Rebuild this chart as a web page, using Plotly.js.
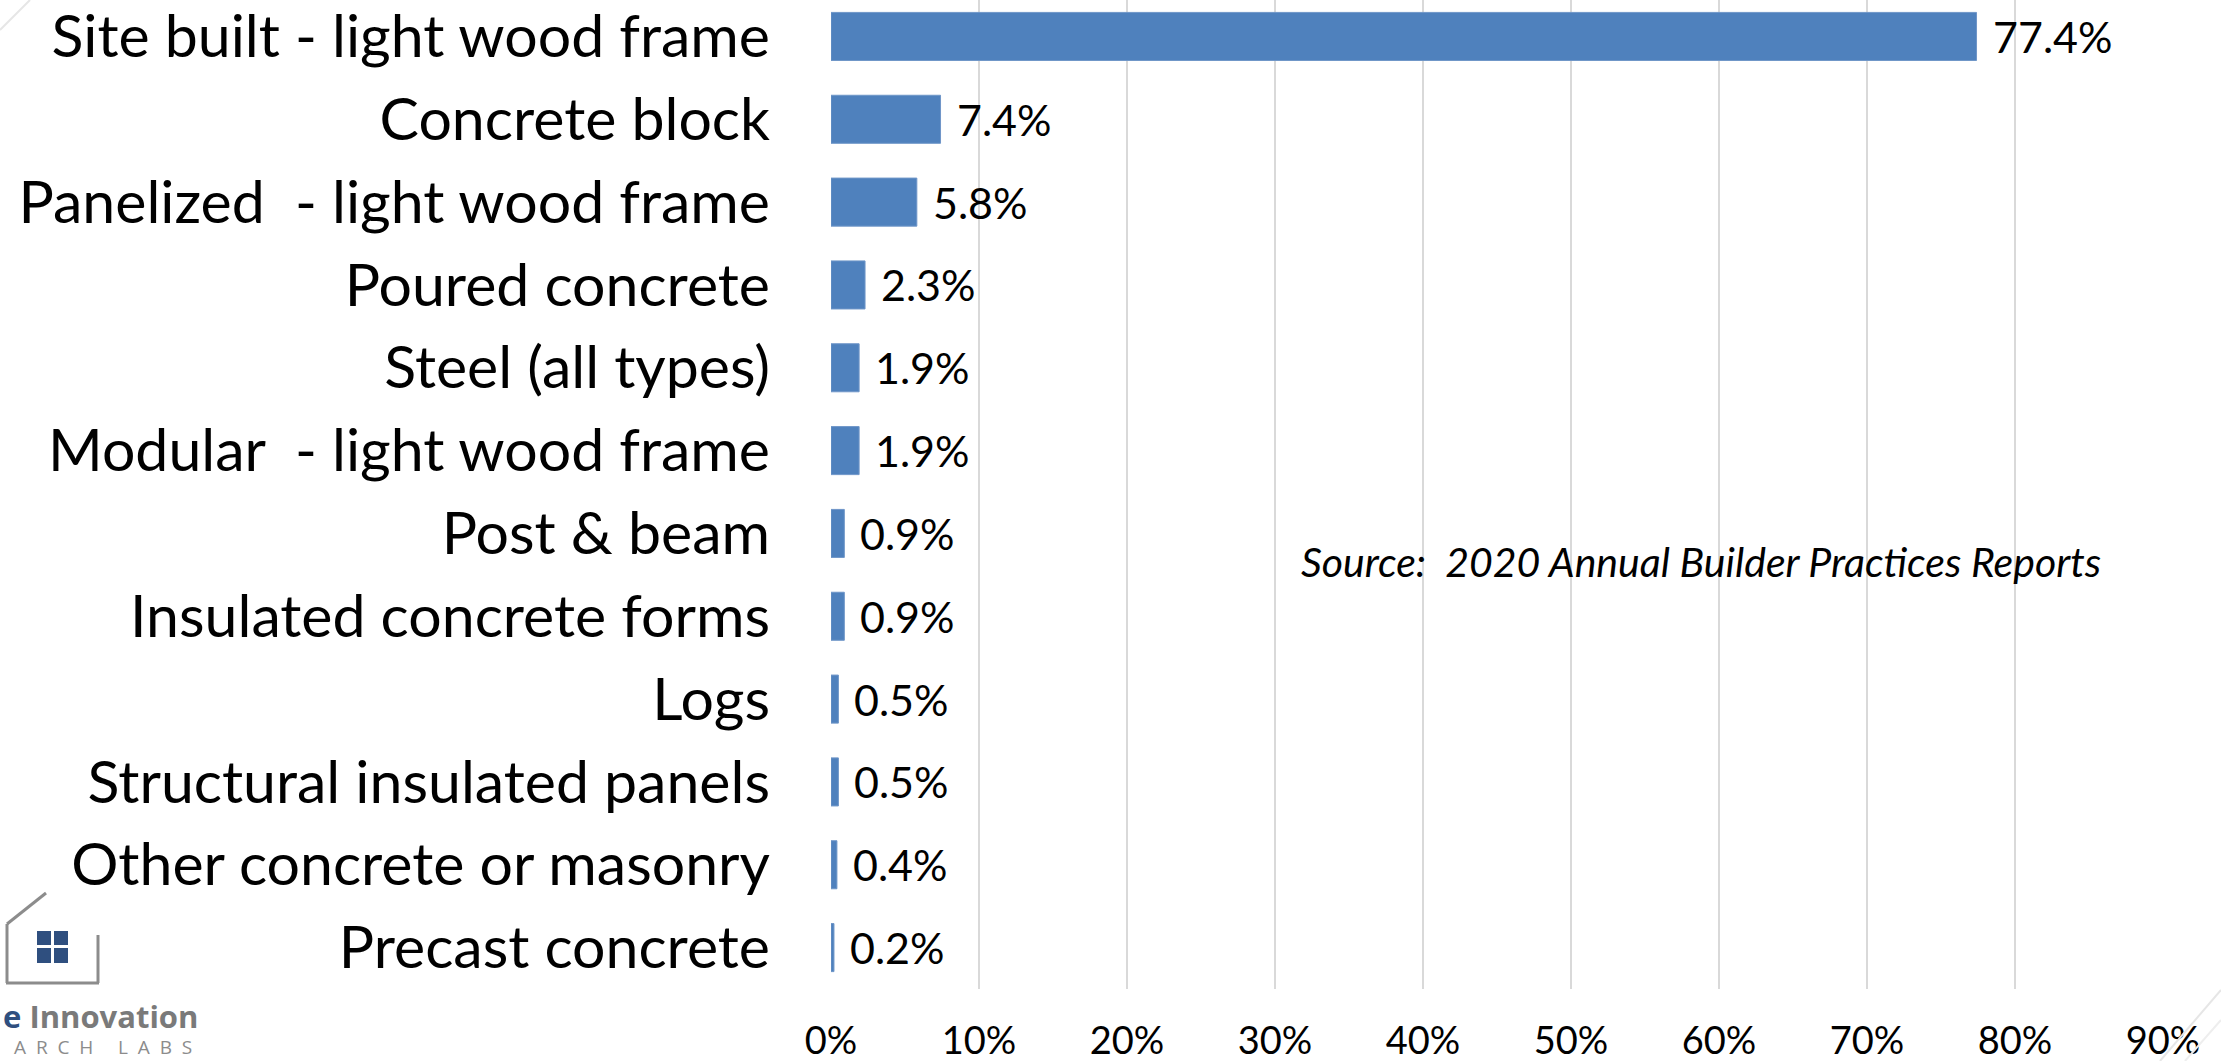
<!DOCTYPE html>
<html>
<head>
<meta charset="utf-8">
<script src="https://cdn.plot.ly/plotly-3.0.1.min.js"></script>
<style>
  html, body { margin: 0; padding: 0; background: #ffffff; }
  #chart { width: 2221px; height: 1061px; }
</style>
</head>
<body>
<div id="chart"></div>
<script>
// ---- Data ----
const categories = [
  "Site built - light wood frame",
  "Concrete block",
  "Panelized  - light wood frame",
  "Poured concrete",
  "Steel (all types)",
  "Modular  - light wood frame",
  "Post & beam",
  "Insulated concrete forms",
  "Logs",
  "Structural insulated panels",
  "Other concrete or masonry",
  "Precast concrete"
];
const shares = [0.774, 0.074, 0.058, 0.023, 0.019, 0.019, 0.009, 0.009, 0.005, 0.005, 0.004, 0.002];
const xTickValues = [0, 0.1, 0.2, 0.3, 0.4, 0.5, 0.6, 0.7, 0.8, 0.9];
const xTickLabels = ["0%", "10%", "20%", "30%", "40%", "50%", "60%", "70%", "80%", "90%"];
const sourceNote = "Source:  2020 Annual Builder Practices Reports";
const logoLine1 = "e Innovation";
const logoWords2 = ["ARCH", "LABS"];

const FONT = "Lato, 'Open Sans', sans-serif";
const BAR_COLOR = "#4F81BD";

const W = 2221, H = 1061, L = 831, R = 58, T = 0, B = 72;

const trace = {
  type: "bar",
  orientation: "h",
  x: shares,
  y: categories,
  marker: { color: BAR_COLOR, line: { color: "#6F96C8", width: 1 } },
  hoverinfo: "skip"
};

const labelAnnotations = shares.map((v, i) => ({
  x: v,
  y: categories[i],
  xref: "x",
  yref: "y",
  text: (v * 100).toFixed(1) + "%",
  showarrow: false,
  xanchor: "left",
  yanchor: "middle",
  xshift: 14,
  font: { family: FONT, size: 43, color: "#000000" }
}));

// pixel -> paper conversion helpers for decorations
const pw = W - L - R, ph = H - T - B;
const px = x => (x - L) / pw;
const py = y => (H - B - y) / ph;
const grey = "#8C8C8C";
const navy = "#2F4F7F";
const NB = "\u00A0";
const spacedLabs = logoWords2.map(w => w.split("").join(NB + NB)).join(NB.repeat(5));

const shapes = [
  // house outline
  { type: "line", xref: "paper", yref: "paper", x0: px(7), y0: py(983), x1: px(7), y1: py(924), line: { color: grey, width: 3 } },
  { type: "line", xref: "paper", yref: "paper", x0: px(7), y0: py(924), x1: px(46), y1: py(893), line: { color: grey, width: 3 } },
  { type: "line", xref: "paper", yref: "paper", x0: px(6), y0: py(983), x1: px(99), y1: py(983), line: { color: grey, width: 3 } },
  { type: "line", xref: "paper", yref: "paper", x0: px(98), y0: py(983), x1: px(98), y1: py(935), line: { color: grey, width: 3 } },
  // window panes
  { type: "rect", xref: "paper", yref: "paper", x0: px(37), y0: py(931), x1: px(51), y1: py(945), fillcolor: navy, line: { width: 0 } },
  { type: "rect", xref: "paper", yref: "paper", x0: px(54), y0: py(931), x1: px(68), y1: py(945), fillcolor: navy, line: { width: 0 } },
  { type: "rect", xref: "paper", yref: "paper", x0: px(37), y0: py(948), x1: px(51), y1: py(963), fillcolor: navy, line: { width: 0 } },
  { type: "rect", xref: "paper", yref: "paper", x0: px(54), y0: py(948), x1: px(68), y1: py(963), fillcolor: navy, line: { width: 0 } },
  // faint slide decorations
  { type: "line", xref: "paper", yref: "paper", x0: px(0), y0: py(30), x1: px(30), y1: py(0), line: { color: "#E6E6E6", width: 2 } },
  { type: "line", xref: "paper", yref: "paper", x0: px(2160), y0: py(1061), x1: px(2221), y1: py(990), line: { color: "#E6E6E6", width: 2 } },
  { type: "line", xref: "paper", yref: "paper", x0: px(2185), y0: py(1061), x1: px(2221), y1: py(1020), line: { color: "#EEEEEE", width: 2 } }
];

const extraAnnotations = [
  {
    x: px(1), y: py(1016), xref: "paper", yref: "paper",
    text: "<b><span style='color:#2F4F7F'>" + logoLine1.slice(0, 1) + "</span>" + logoLine1.slice(1) + "</b>",
    showarrow: false, xanchor: "left", yanchor: "middle",
    font: { family: "'Open Sans', sans-serif", size: 31, color: "#7A7A7A" }
  },
  {
    x: px(194), y: py(1047), xref: "paper", yref: "paper",
    text: spacedLabs,
    showarrow: false, xanchor: "right", yanchor: "middle",
    font: { family: "'Open Sans', sans-serif", size: 19, color: "#8C8C8C" }
  },
  {
    x: px(1701), y: py(561), xref: "paper", yref: "paper",
    text: "<i>" + sourceNote + "</i>",
    showarrow: false, xanchor: "center", yanchor: "middle",
    font: { family: FONT, size: 41, color: "#000000" }
  }
];

const layout = {
  width: W,
  height: H,
  paper_bgcolor: "#ffffff",
  plot_bgcolor: "#ffffff",
  showlegend: false,
  margin: { l: L, r: R, t: T, b: B, pad: 0 },
  bargap: 0.42,
  xaxis: {
    range: [0, 0.9],
    tickvals: xTickValues,
    ticktext: xTickLabels,
    showgrid: true,
    gridcolor: "#D9D9D9",
    gridwidth: 2,
    zeroline: false,
    showline: false,
    ticks: "",
    ticklabelstandoff: 26,
    tickfont: { family: FONT, size: 38, color: "#000000" },
    fixedrange: true
  },
  yaxis: {
    type: "category",
    categoryorder: "array",
    categoryarray: categories,
    range: [11.5, -0.44],
    showgrid: false,
    zeroline: false,
    showline: false,
    ticks: "",
    ticklabelstandoff: 60,
    tickfont: { family: FONT, size: 59, color: "#000000" },
    fixedrange: true
  },
  annotations: labelAnnotations.concat(extraAnnotations),
  shapes: shapes
};

Plotly.newPlot("chart", [trace], layout, { displayModeBar: false, staticPlot: true });
</script>
</body>
</html>
